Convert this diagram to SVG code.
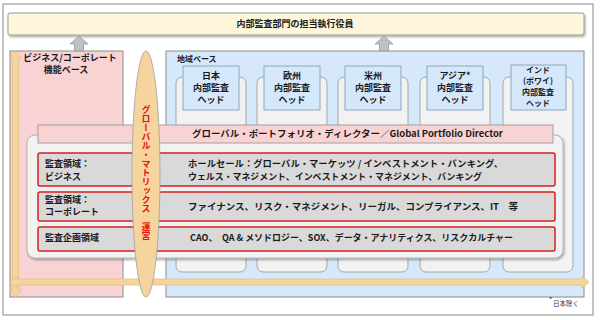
<svg xmlns="http://www.w3.org/2000/svg" width="600" height="320" viewBox="0 0 600 320">
<defs>
<style>
text{font-family:"Noto Sans CJK JP","Noto Sans",sans-serif;fill:#1a1a1a;}
.b{font-weight:bold;font-size:9px;}
.s{font-size:8px;}
.c{text-anchor:middle;}
.head rect{fill:#d5e8fb;stroke:#8ea6bd;stroke-width:1;}
.col{fill:#f2f2f2;stroke:#a6a6a6;stroke-width:1;}
.row{fill:#d9d9d9;stroke:#d42020;stroke-width:1.5;}
.tan{fill:#f5d59d;stroke:#e2c07f;stroke-width:0.8;}
.gry{fill:#c0c0c0;stroke:#9a9a9a;stroke-width:0.8;}
</style>
<filter id="sh" x="-5%" y="-5%" width="110%" height="120%">
<feDropShadow dx="1" dy="1.5" stdDeviation="0.8" flood-color="#000" flood-opacity="0.35"/>
</filter>
</defs>
<rect x="3" y="4" width="590" height="311" fill="#fff" stroke="#9a9a9a" stroke-width="1.2"/>

<g id="exec">
<rect x="8" y="13" width="576" height="22" rx="2" fill="#fdf6da" stroke="#9a9a9a" filter="url(#sh)"/>
<text class="b c" x="295" y="27">内部監査部門の担当執行役員</text>
</g>

<g id="functional">
<rect x="10" y="51" width="113" height="246" fill="#f9d3d3" stroke="#8c8c8c"/>
<text class="b c" x="70" y="61">ビジネス/コーポレート</text>
<text class="b c" x="66" y="73">機能ベース</text>
</g>

<g id="regional">
<rect x="166" y="51" width="418" height="246" fill="#d6e9fb" stroke="#8c8c8c"/>
<text class="b" x="177" y="62" style="font-size:8px">地域ベース</text>
<rect class="col" x="176" y="77" width="70" height="195" rx="6"/>
<rect class="col" x="257" y="77" width="70" height="195" rx="6"/>
<rect class="col" x="338" y="77" width="70" height="195" rx="6"/>
<rect class="col" x="420" y="77" width="70" height="195" rx="6"/>
<rect class="col" x="503" y="77" width="70" height="195" rx="6"/>
</g>

<g id="head-japan" class="head">
<rect x="183" y="66" width="56" height="44"/>
<text class="b c" x="211" y="79">日本</text>
<text class="b c" x="211" y="91">内部監査</text>
<text class="b c" x="211" y="103">ヘッド</text>
</g>
<g id="head-europe" class="head">
<rect x="264" y="66" width="56" height="44"/>
<text class="b c" x="292" y="79">欧州</text>
<text class="b c" x="292" y="91">内部監査</text>
<text class="b c" x="292" y="103">ヘッド</text>
</g>
<g id="head-americas" class="head">
<rect x="345" y="66" width="56" height="44"/>
<text class="b c" x="373" y="79">米州</text>
<text class="b c" x="373" y="91">内部監査</text>
<text class="b c" x="373" y="103">ヘッド</text>
</g>
<g id="head-asia" class="head">
<rect x="427" y="66" width="56" height="44"/>
<text class="b c" x="455" y="79">アジア*</text>
<text class="b c" x="455" y="91">内部監査</text>
<text class="b c" x="455" y="103">ヘッド</text>
</g>
<g id="head-india" class="head">
<rect x="511" y="65" width="55" height="45"/>
<text class="b c s" x="538" y="73">インド</text>
<text class="b c s" x="538" y="84">(ポワイ)</text>
<text class="b c s" x="538" y="95">内部監査</text>
<text class="b c s" x="538" y="106">ヘッド</text>
</g>

<g id="global-panel">
<rect x="27" y="135" width="536" height="123" rx="8" fill="#f2f2f2" stroke="#b3b3b3" filter="url(#sh)"/>
</g>

<g id="gpd">
<rect x="38" y="125" width="515" height="18" fill="#f9d3d3" stroke="#a0a0a0"/>
<text class="b" x="192" y="137" textLength="311" lengthAdjust="spacingAndGlyphs">グローバル・ポートフォリオ・ディレクター／Global Portfolio Director</text>
</g>

<g id="row-business">
<rect class="row" x="38" y="153" width="517" height="33" rx="2"/>
<text class="b" x="45" y="167">監査領域：</text>
<text class="b" x="45" y="180">ビジネス</text>
<text class="b" x="188" y="167" textLength="315" lengthAdjust="spacingAndGlyphs">ホールセール：グローバル・マーケッツ / インベストメント・バンキング、</text>
<text class="b" x="188" y="180" textLength="294" lengthAdjust="spacingAndGlyphs">ウェルス・マネジメント、インベストメント・マネジメント、バンキング</text>
</g>

<g id="row-corporate">
<rect class="row" x="38" y="192" width="517" height="29" rx="2"/>
<text class="b" x="45" y="203">監査領域：</text>
<text class="b" x="45" y="215">コーポレート</text>
<text class="b" x="188" y="210" textLength="330" lengthAdjust="spacingAndGlyphs">ファイナンス、リスク・マネジメント、リーガル、コンプライアンス、IT　等</text>
</g>

<g id="row-planning">
<rect class="row" x="38" y="227" width="517" height="24" rx="2"/>
<text class="b" x="45" y="241">監査企画領域</text>
<text class="b" x="190" y="241" textLength="323" lengthAdjust="spacingAndGlyphs">CAO、　QA &amp; メソドロジー、SOX、データ・アナリティクス、リスクカルチャー</text>
</g>

<g id="connectors">
<polygon class="gry" points="79,36 88,44 83.5,44 83.5,51 74.5,51 74.5,44 70,44"/>
<polygon class="gry" points="384,36 393,44 388.5,44 388.5,51 379.5,51 379.5,44 375,44"/>
<polygon class="tan" points="15.5,51 21.5,58 18.5,58 18.5,290 21.5,290 15.5,297 9.5,290 12.5,290 12.5,58 9.5,58"/>
<polygon class="tan" points="10,282 17,276 17,279 582,279 582,276 589,282 582,288 582,285 17,285 17,288"/>
</g>

<g id="matrix">
<ellipse cx="146" cy="174" rx="14" ry="123" fill="#f5d59d" stroke="#a0a0a0" stroke-width="0.8"/>
<text class="b" x="146" y="105" style="writing-mode:vertical-rl;fill:#e81010">グローバル・マトリックス　運営</text>
</g>

<g id="note">
<text x="549" y="302" style="font-size:7px">*</text>
<text x="553" y="306" style="font-size:6.5px;fill:#333">日本除く</text>
</g>
</svg>
